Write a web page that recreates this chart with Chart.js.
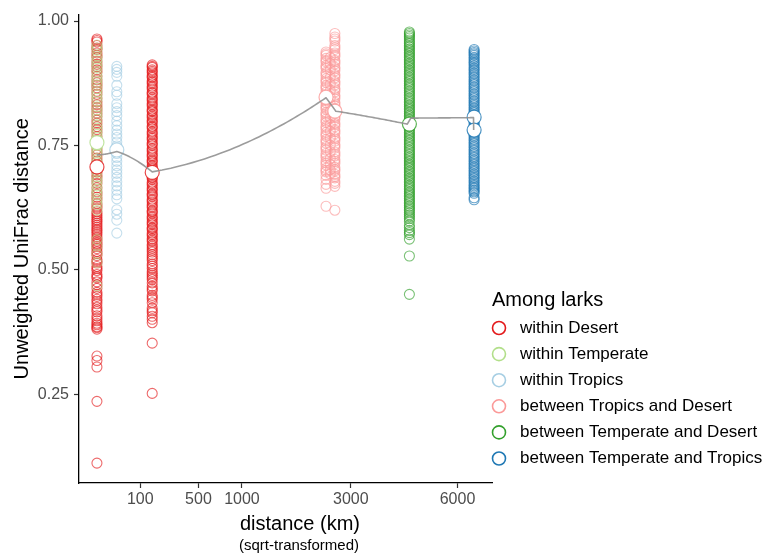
<!DOCTYPE html>
<html>
<head>
<meta charset="utf-8">
<script src="https://cdn.jsdelivr.net/npm/chart.js@4.4.1/dist/chart.umd.min.js"></script>
<style>
    html, body { margin: 0; padding: 0; background: #ffffff; }
    #wrap { width: 765px; height: 555px; }
</style>
</head>
<body>
<div id="wrap"><canvas id="main-chart" width="765" height="555"></canvas></div>
<script>
// groups (legend order)
const group_labels = [
    "within Desert",
    "within Temperate",
    "within Tropics",
    "between Tropics and Desert",
    "between Temperate and Desert",
    "between Temperate and Tropics"
];
const group_colors = ["#E31A1C", "#B2DF8A", "#A6CEE3", "#FB9A99", "#33A02C", "#1F78B4"];

// pairwise distances in km for every column of points
const km_desert_a = 0.6;
const km_temperate = 0.6;
const km_tropics = 25;
const km_desert_b = 157;
const km_trop_des_a = 2450;
const km_trop_des_c = 2540;
const km_trop_des_b = 2640;
const km_temp_des = 4520;
const km_temp_trop = 6560;

// Unweighted UniFrac distance of each pair
const desert_a_vals = [0.964, 0.958, 0.951, 0.943, 0.936, 0.927, 0.919, 0.908, 0.897, 0.889, 0.876, 0.866, 0.853, 0.845,
    0.832, 0.821, 0.809, 0.801, 0.788, 0.776, 0.768, 0.754, 0.743, 0.731, 0.719, 0.708, 0.697, 0.686, 0.674, 0.665,
    0.652, 0.641, 0.633, 0.624, 0.617, 0.609, 0.601, 0.594, 0.586, 0.579, 0.571, 0.566, 0.558, 0.551, 0.543, 0.537,
    0.529, 0.521, 0.514, 0.507, 0.499, 0.491, 0.484, 0.476, 0.463, 0.455, 0.447, 0.441, 0.432, 0.425, 0.416, 0.408,
    0.398, 0.393, 0.386, 0.381, 0.327, 0.318, 0.305, 0.236, 0.112,
    0.961, 0.946, 0.931, 0.913, 0.902, 0.882, 0.871, 0.859, 0.838, 0.826, 0.815, 0.795, 0.782, 0.760, 0.737, 0.725,
    0.702, 0.691, 0.680, 0.657, 0.646, 0.628, 0.613, 0.605, 0.598, 0.590, 0.582, 0.575, 0.562, 0.554, 0.547, 0.533,
    0.517, 0.503, 0.487, 0.470, 0.451, 0.437, 0.420, 0.403, 0.390, 0.384];
const temperate_vals = [0.952, 0.941, 0.930, 0.918, 0.906, 0.897, 0.884, 0.872, 0.864, 0.851, 0.839, 0.828, 0.815,
    0.803, 0.792, 0.779, 0.767, 0.756, 0.744, 0.733, 0.722, 0.711, 0.698, 0.687, 0.676, 0.662, 0.651, 0.642, 0.631,
    0.620, 0.561, 0.548, 0.532, 0.515, 0.468,
    0.946, 0.924, 0.911, 0.890, 0.878, 0.857, 0.845, 0.821, 0.809, 0.785, 0.773, 0.750, 0.738, 0.716, 0.704, 0.681,
    0.669, 0.656, 0.636];
const tropics_vals = [0.909, 0.903, 0.897, 0.889, 0.871, 0.858, 0.851, 0.834, 0.826, 0.818, 0.810, 0.799, 0.790, 0.781,
    0.773, 0.766, 0.757, 0.749, 0.742, 0.734, 0.726, 0.718, 0.709, 0.701, 0.694, 0.686, 0.677, 0.669, 0.660, 0.651,
    0.643, 0.621, 0.612, 0.600, 0.574];
const desert_b_vals = [0.912, 0.907, 0.902, 0.896, 0.891, 0.886, 0.880, 0.874, 0.869, 0.863, 0.857, 0.852, 0.846, 0.840,
    0.835, 0.829, 0.823, 0.818, 0.812, 0.806, 0.801, 0.795, 0.789, 0.784, 0.778, 0.772, 0.767, 0.761, 0.755, 0.750,
    0.744, 0.738, 0.733, 0.727, 0.721, 0.716, 0.710, 0.704, 0.699, 0.693, 0.687, 0.682, 0.676, 0.670, 0.665, 0.659,
    0.653, 0.648, 0.642, 0.636, 0.631, 0.625, 0.619, 0.614, 0.608, 0.602, 0.597, 0.591, 0.585, 0.580, 0.574, 0.568,
    0.563, 0.557, 0.551, 0.544, 0.536, 0.527, 0.519, 0.512, 0.503, 0.497, 0.489, 0.481, 0.474, 0.467, 0.458, 0.449,
    0.441, 0.434, 0.423, 0.414, 0.407, 0.401, 0.394, 0.353, 0.252,
    0.909, 0.899, 0.888, 0.877, 0.866, 0.855, 0.843, 0.832, 0.820, 0.809, 0.798, 0.787, 0.775, 0.764, 0.753, 0.741,
    0.730, 0.719, 0.707, 0.696, 0.685, 0.673, 0.662, 0.651, 0.639, 0.628, 0.617, 0.605, 0.594, 0.583, 0.571, 0.560,
    0.548, 0.540, 0.531, 0.523, 0.508, 0.493, 0.485, 0.462, 0.445, 0.418];
const trop_des_a_vals = [0.938, 0.931, 0.925, 0.918, 0.911, 0.905, 0.897, 0.890, 0.884, 0.877, 0.870, 0.863, 0.857,
    0.850, 0.843, 0.836, 0.830, 0.823, 0.816, 0.809, 0.803, 0.796, 0.789, 0.782, 0.776, 0.769, 0.762, 0.755, 0.748,
    0.741, 0.734, 0.726, 0.719, 0.711, 0.704, 0.697, 0.664, 0.628,
    0.934, 0.921, 0.908, 0.894, 0.880, 0.867, 0.853, 0.840, 0.826, 0.813, 0.799, 0.786, 0.772, 0.759, 0.745, 0.730,
    0.715, 0.700, 0.690, 0.682, 0.672];
const trop_des_c_vals = [0.927, 0.915, 0.902, 0.887, 0.873, 0.860, 0.846, 0.833, 0.819, 0.806, 0.792, 0.779, 0.765,
    0.751, 0.738, 0.724, 0.712, 0.701, 0.693];
const trop_des_b_vals = [0.975, 0.968, 0.960, 0.951, 0.943, 0.936, 0.929, 0.921, 0.914, 0.907, 0.900, 0.893, 0.886,
    0.879, 0.872, 0.865, 0.858, 0.851, 0.844, 0.837, 0.830, 0.823, 0.816, 0.809, 0.802, 0.795, 0.788, 0.781, 0.774,
    0.766, 0.759, 0.752, 0.745, 0.737, 0.729, 0.722, 0.714, 0.706, 0.699, 0.692, 0.685, 0.678, 0.620,
    0.964, 0.947, 0.932, 0.918, 0.904, 0.890, 0.876, 0.862, 0.848, 0.834, 0.820, 0.806, 0.792, 0.778, 0.763, 0.749,
    0.733, 0.718, 0.702, 0.688, 0.674, 0.668];
const temp_des_vals = [0.978, 0.972, 0.966, 0.958, 0.951, 0.944, 0.937, 0.930, 0.923, 0.916, 0.909, 0.902, 0.895,
    0.888, 0.881, 0.874, 0.867, 0.860, 0.853, 0.846, 0.839, 0.832, 0.825, 0.818, 0.811, 0.804, 0.797, 0.790, 0.783,
    0.776, 0.769, 0.762, 0.755, 0.748, 0.741, 0.734, 0.727, 0.720, 0.713, 0.706, 0.699, 0.692, 0.685, 0.678, 0.671,
    0.664, 0.657, 0.650, 0.643, 0.636, 0.629, 0.622, 0.615, 0.607, 0.598, 0.590, 0.579, 0.571, 0.562, 0.528, 0.451,
    0.975, 0.962, 0.948, 0.934, 0.920, 0.906, 0.892, 0.878, 0.864, 0.850, 0.836, 0.822, 0.808, 0.794, 0.780, 0.766,
    0.752, 0.738, 0.724, 0.710, 0.696, 0.682, 0.668, 0.654, 0.640, 0.626, 0.611, 0.603, 0.585, 0.575,
    0.969, 0.955, 0.941, 0.927, 0.913, 0.899, 0.885, 0.871, 0.857, 0.843, 0.829, 0.815, 0.801, 0.787, 0.773, 0.759,
    0.745, 0.731, 0.717, 0.703, 0.689, 0.675, 0.661, 0.647, 0.633, 0.619];
const temp_trop_vals = [0.943, 0.937, 0.931, 0.924, 0.917, 0.910, 0.903, 0.896, 0.889, 0.882, 0.875, 0.868, 0.861,
    0.854, 0.847, 0.840, 0.833, 0.826, 0.819, 0.812, 0.805, 0.798, 0.791, 0.784, 0.777, 0.770, 0.763, 0.756, 0.749,
    0.742, 0.735, 0.728, 0.721, 0.714, 0.707, 0.700, 0.693, 0.686, 0.679, 0.672, 0.666, 0.660, 0.654, 0.641,
    0.940, 0.927, 0.914, 0.900, 0.886, 0.872, 0.858, 0.844, 0.830, 0.816, 0.802, 0.788, 0.774, 0.760, 0.746, 0.732,
    0.718, 0.704, 0.690, 0.676, 0.669, 0.663, 0.657, 0.645,
    0.934, 0.920, 0.906, 0.893, 0.879, 0.865, 0.851, 0.837, 0.823, 0.809, 0.795, 0.781, 0.767, 0.753, 0.739, 0.725,
    0.711, 0.697, 0.683];

// group means (white circles)
const mean_km = [0.6, 157, 0.6, 25, 2450, 2640, 4520, 6560, 6560];
const mean_vals = [0.707, 0.696, 0.756, 0.741, 0.847, 0.819, 0.793, 0.807, 0.781];
const mean_group = [0, 0, 1, 2, 3, 3, 4, 5, 5];

// overall mean per distance (grey line)
const line_km = [0.6, 25, 157, 2450, 2660, 4460, 4560, 6540, 6545];
const line_vals = [0.731, 0.738, 0.697, 0.846, 0.819, 0.793, 0.805, 0.806, 0.781];

// axis ticks
const x_ticks_km = [100, 500, 1000, 3000, 6000];
const y_ticks = [0.25, 0.50, 0.75, 1.00];

function alpha(hex, a)
{
    let r = parseInt(hex.slice(1, 3), 16);
    let g = parseInt(hex.slice(3, 5), 16);
    let b = parseInt(hex.slice(5, 7), 16);
    return "rgba(" + r + "," + g + "," + b + "," + a + ")";
}

function column(km, vals)
{
    return vals.map(v => ({x: Math.sqrt(km), y: v}));
}

const group_points = [
    column(km_desert_a, desert_a_vals).concat(column(km_desert_b, desert_b_vals)),
    column(km_temperate, temperate_vals),
    column(km_tropics, tropics_vals),
    column(km_trop_des_a, trop_des_a_vals)
        .concat(column(km_trop_des_c, trop_des_c_vals))
        .concat(column(km_trop_des_b, trop_des_b_vals)),
    column(km_temp_des, temp_des_vals),
    column(km_temp_trop, temp_trop_vals)
];

// draw order: within Temperate sits over within Desert at the shortest distance
const draw_order = [3, 2, 4, 5, 6, 7];

let datasets = [];
for(let i = 0; i < group_labels.length; i++)
{
    datasets.push({
        label: group_labels[i],
        data: group_points[i],
        order: draw_order[i],
        pointRadius: 5,
        pointBorderWidth: 1.1,
        pointBackgroundColor: "rgba(0,0,0,0)",
        pointBorderColor: alpha(group_colors[i], i == 1 ? 0.55 : 0.65),
        showLine: false
    });
}

datasets.push({
    label: "group mean",
    data: mean_km.map((k, i) => ({x: Math.sqrt(k), y: mean_vals[i]})),
    order: 1,
    pointRadius: 7,
    pointBorderWidth: 1.2,
    pointBackgroundColor: "#ffffff",
    pointBorderColor: mean_group.map(g => alpha(group_colors[g], 0.8)),
    showLine: false
});

datasets.push({
    label: "overall mean",
    data: line_km.map((k, i) => ({x: Math.sqrt(k), y: line_vals[i]})),
    order: 0,
    pointRadius: 0,
    showLine: false
});

// ggplot coord_trans: the line is straight in km, so it bends on the sqrt axis
const km_line_plugin = {
    id: "kmLine",
    afterDatasetsDraw(chart)
    {
        const xs = chart.scales.x;
        const ys = chart.scales.y;
        const pts = chart.data.datasets[chart.data.datasets.length - 1].data;
        const ctx = chart.ctx;
        ctx.save();
        ctx.beginPath();
        ctx.moveTo(xs.getPixelForValue(pts[0].x), ys.getPixelForValue(pts[0].y));
        for(let i = 1; i < pts.length; i++)
        {
            const k0 = pts[i - 1].x * pts[i - 1].x;
            const k1 = pts[i].x * pts[i].x;
            for(let s = 1; s <= 40; s++)
            {
                const t = s / 40;
                const k = k0 + (k1 - k0) * t;
                const v = pts[i - 1].y + (pts[i].y - pts[i - 1].y) * t;
                ctx.lineTo(xs.getPixelForValue(Math.sqrt(k)), ys.getPixelForValue(v));
            }
        }
        ctx.strokeStyle = "rgba(145,145,145,0.9)";
        ctx.lineWidth = 1.6;
        ctx.lineJoin = "round";
        ctx.stroke();
        ctx.restore();
    }
};

const legend_plugin = {
    id: "larkLegend",
    afterDraw(chart)
    {
        const ctx = chart.ctx;
        ctx.save();
        ctx.fillStyle = "#000000";
        ctx.textBaseline = "middle";
        ctx.textAlign = "left";
        ctx.font = "20px 'Liberation Sans', Arial, sans-serif";
        ctx.fillText("Among larks", 492, 300);
        ctx.font = "17px 'Liberation Sans', Arial, sans-serif";
        for(let i = 0; i < group_labels.length; i++)
        {
            const y = 328 + i * 26.1;
            ctx.beginPath();
            ctx.arc(499, y, 6.5, 0, Math.PI * 2);
            ctx.strokeStyle = group_colors[i];
            ctx.lineWidth = 1.6;
            ctx.stroke();
            ctx.fillStyle = "#000000";
            ctx.fillText(group_labels[i], 520, y);
        }

        // x axis title (ggplot puts it slightly right of the panel centre here)
        ctx.textAlign = "center";
        ctx.font = "20px 'Liberation Sans', Arial, sans-serif";
        ctx.fillText("distance (km)", 300, 524);
        ctx.font = "15px 'Liberation Sans', Arial, sans-serif";
        ctx.fillText("(sqrt-transformed)", 299, 546);
        ctx.restore();
    }
};

Chart.defaults.font.family = "'Liberation Sans', Arial, sans-serif";

const config = {
    type: "scatter",
    data: {datasets: datasets},
    options: {
        responsive: false,
        animation: false,
        devicePixelRatio: 1,
        layout: {
            padding: {top: 12, right: 273, bottom: 0, left: 0}
        },
        plugins: {
            legend: {display: false},
            tooltip: {enabled: false}
        },
        scales: {
            x: {
                type: "linear",
                min: -3.04,
                max: 84.8,
                afterFit: function(scale) { scale.height = 72; },
                afterBuildTicks: function(scale) {
                    scale.ticks = x_ticks_km.map(k => ({value: Math.sqrt(k)}));
                },
                ticks: {
                    color: "#4D4D4D",
                    font: {size: 16},
                    padding: 2,
                    maxRotation: 0,
                    autoSkip: false,
                    callback: function(value) { return String(Math.round(value * value)); }
                },
                grid: {
                    display: true,
                    drawOnChartArea: false,
                    drawTicks: true,
                    tickLength: 5,
                    tickColor: "#333333",
                    tickWidth: 1.2
                },
                border: {display: true, color: "#000000", width: 1.3}
            },
            y: {
                type: "linear",
                min: 0.072,
                max: 1.013,
                afterFit: function(scale) { scale.width = 79; },
                afterBuildTicks: function(scale) {
                    scale.ticks = y_ticks.map(v => ({value: v}));
                },
                ticks: {
                    color: "#4D4D4D",
                    font: {size: 16},
                    padding: 5,
                    callback: function(value) { return value.toFixed(2); }
                },
                grid: {
                    display: true,
                    drawOnChartArea: false,
                    drawTicks: true,
                    tickLength: 5,
                    tickColor: "#333333",
                    tickWidth: 1.2
                },
                border: {display: true, color: "#000000", width: 1.3},
                title: {
                    display: true,
                    text: "Unweighted UniFrac distance",
                    color: "#000000",
                    font: {size: 20},
                    padding: {top: 10, bottom: 0}
                }
            }
        }
    },
    plugins: [km_line_plugin, legend_plugin]
};

const main_chart = new Chart(document.getElementById("main-chart").getContext("2d"), config);
</script>
</body>
</html>
